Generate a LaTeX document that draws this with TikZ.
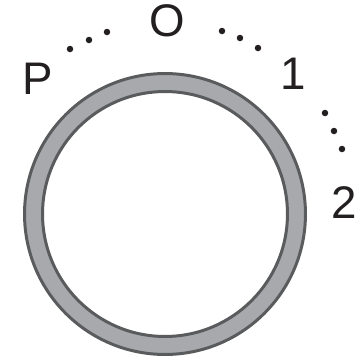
\documentclass[tikz,border=0pt]{standalone}
\usepackage{fontspec}
\setmainfont{Liberation Sans}
\usetikzlibrary{positioning}
\definecolor{cring}{HTML}{A7A9AC}
\definecolor{cedge}{HTML}{5A5B5D}
\definecolor{ctext}{HTML}{231F20}
\tikzset{
  every picture/.style={line width=1.7pt},
  mark label/.style={font=\fontsize{26}{30}\selectfont, text=ctext, inner sep=0pt, anchor=center},
  tick dot/.style={circle, fill=ctext, inner sep=0pt, minimum size=0.13cm},
}
\begin{document}
\begin{tikzpicture}[x=0.02cm, y=-0.02cm]
  \useasboundingbox (0,0) rectangle (356,360);
  % ring
  \coordinate (c) at (165,214);
  \fill[cring, even odd rule] (c) circle[radius=2.81cm] (c) circle[radius=2.45cm];
  \draw[cedge] (c) circle[radius=2.81cm];
  \draw[cedge] (c) circle[radius=2.45cm];
  % labels
  \node[mark label] (p) at (38,79) {P};
  \node[mark label] (o) at (167,21) {O};
  \node[mark label] (one) at (293,74) {1};
  \node[mark label] (two) at (344,203) {2};
  % dots
  \foreach \x/\y [count=\i] in {70/49, 89/40, 107/32, 222/31, 240/38, 258/48, 325/113, 334/131, 342/149}
    \node[tick dot] (d\i) at (\x,\y) {};
\end{tikzpicture}
\end{document}
